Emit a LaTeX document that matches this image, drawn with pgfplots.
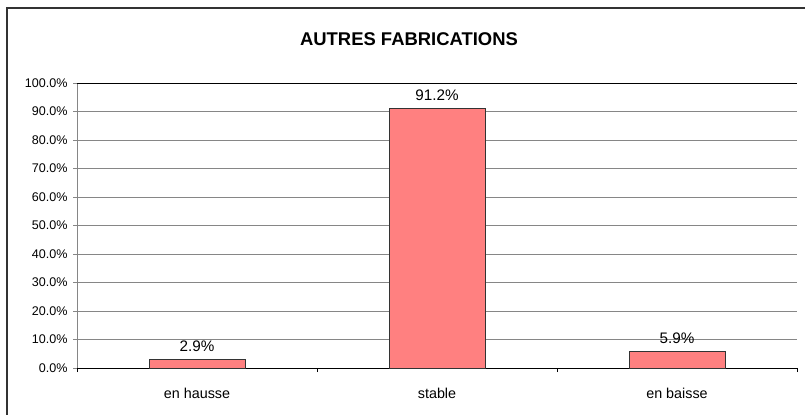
\documentclass[border=0pt]{standalone}
\usepackage{pgfplots}
\pgfplotsset{compat=1.18}
\usepackage{fontspec}
\setmainfont{Liberation Sans}
\definecolor{barfill}{HTML}{FF8080}
\definecolor{gridgray}{HTML}{868686}
\begin{document}
\begin{tikzpicture}[x=1bp,y=1bp]
\useasboundingbox (0,0) rectangle (805,414);
\draw[line width=2bp, color=black!80] (7,-10) -- (7,405.5) -- (815,405.5);
\node[font=\bfseries\fontsize{18.5}{21}\selectfont] at (409,375) {AUTRES FABRICATIONS};
\begin{axis}[
  at={(77bp,46bp)}, anchor=south west,
  scale only axis, width=720bp, height=285bp,
  xmin=0, xmax=3, ymin=0, ymax=100,
  /pgf/number format/assume math mode=true,
  axis x line*=bottom, axis y line*=left,
  x axis line style={-, black},
  y axis line style={-, gridgray},
  tick align=outside,
  major tick length=4bp,
  ytick={0,10,...,100},
  ytick style={gridgray},
  yticklabel={\pgfmathprintnumber[fixed,precision=1,fixed zerofill]{\tick}\%},
  yticklabel style={font=\fontsize{12.6}{14}\selectfont, xshift=-2bp},
  xtick={0.5,1.5,2.5},
  xticklabels={en hausse, stable, en baisse},
  xtick style={draw=none},
  xticklabel style={font=\fontsize{14.4}{16}\selectfont, anchor=base, yshift=-26bp},
  extra x ticks={0,1,2,3},
  extra x tick labels={},
  extra x tick style={xtick style={draw=black}},
  ymajorgrids, grid style={gridgray, line width=0.8bp},
  clip=false,
]
\addplot[ybar, bar width=0.4, fill=barfill, draw=black!80, line width=0.8bp,
  nodes near coords={\pgfmathprintnumber[fixed,precision=1,fixed zerofill]{\pgfplotspointmeta}\%},
  nodes near coords style={font=\fontsize{15.3}{17}\selectfont, anchor=base, yshift=8bp, text=black}]
  coordinates {(0.5,2.9) (1.5,91.2) (2.5,5.9)};
\draw[black, line width=0.8bp] (axis cs:0,100) -- (axis cs:3,100);
\end{axis}
\end{tikzpicture}
\end{document}
